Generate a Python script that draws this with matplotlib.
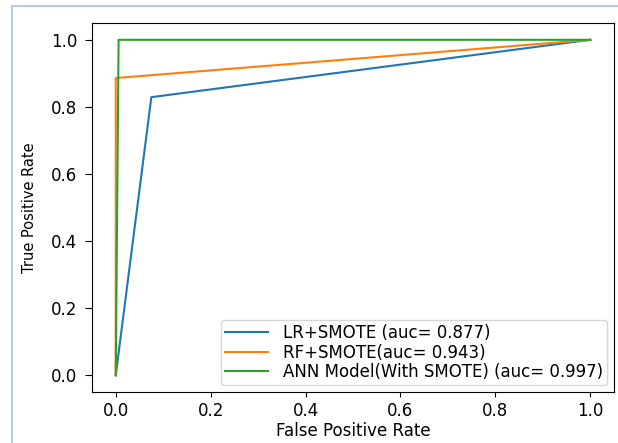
import matplotlib
matplotlib.use('Agg')
import matplotlib.pyplot as plt
from matplotlib.lines import Line2D

# roc points
lr_fpr = [0.0, 0.075, 1.0]
lr_tpr = [0.0, 0.829, 1.0]
rf_fpr = [0.0, 0.0, 1.0]
rf_tpr = [0.0, 0.886, 1.0]
ann_fpr = [0.0, 0.006, 1.0]
ann_tpr = [0.0, 1.0, 1.0]

labels = ['LR+SMOTE (auc= 0.877)',
          'RF+SMOTE(auc= 0.943)',
          'ANN Model(With SMOTE) (auc= 0.997)']

fig = plt.figure(figsize=(6.18, 4.43), dpi=100)
ax = fig.add_axes([0.1489, 0.1151, 0.8446, 0.8329])

ax.plot(lr_fpr, lr_tpr, label=labels[0])
ax.plot(rf_fpr, rf_tpr, label=labels[1])
ax.plot(ann_fpr, ann_tpr, label=labels[2])

ax.set_xticks([0.0, 0.2, 0.4, 0.6, 0.8, 1.0])
ax.set_yticks([0.0, 0.2, 0.4, 0.6, 0.8, 1.0])
ax.tick_params(labelsize=12)
ax.tick_params(axis='y', length=5, pad=5.5)
ax.set_xlabel('False Positive Rate', fontsize=12, labelpad=1.5)
ax.set_ylabel('True Positive Rate', fontsize=10.5)
ax.yaxis.set_label_coords(-0.105, 0.5)
ax.legend(loc='lower right', fontsize=12, labelspacing=0.1, borderpad=0.25,
          handlelength=2.6, handletextpad=0.9, borderaxespad=0.4)

# light frame of the screenshot
fig.add_artist(Line2D([12 / 618, 12 / 618], [0, 1 - 6 / 443], color='#b8caee', lw=1.5))
fig.add_artist(Line2D([12 / 618, 1], [1 - 6 / 443, 1 - 6 / 443], color='#b8caee', lw=1.5))

fig.savefig('out.png', dpi=100)
